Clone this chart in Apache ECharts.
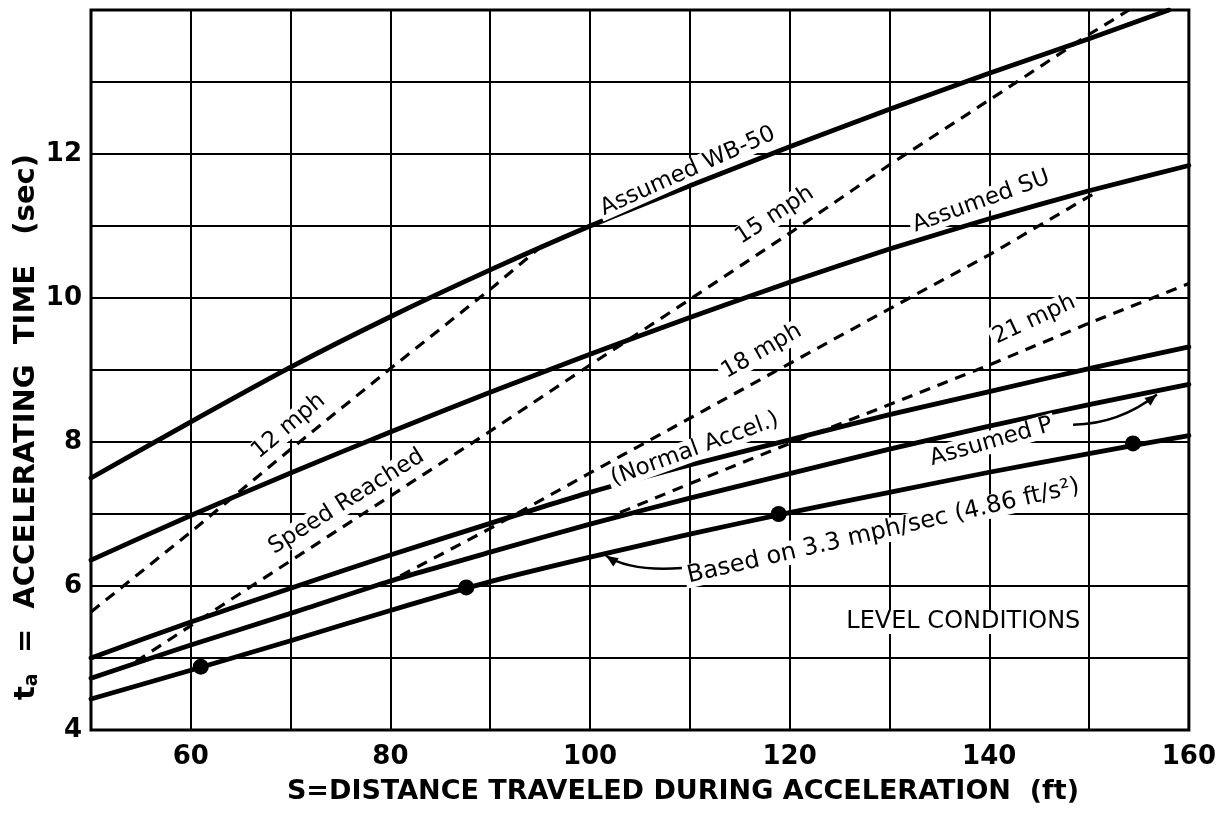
<!DOCTYPE html>
<html>
<head>
<meta charset="utf-8">
<script src="https://cdn.jsdelivr.net/npm/echarts@6/dist/echarts.min.js"></script>
<style>html,body{margin:0;padding:0;background:#fff}#c{width:1219px;height:813px}</style>
</head>
<body>
<div id="c"></div>
<script>
// ---- tick labels ----
const xTickLabels = [60, 80, 100, 120, 140, 160];
const yTickLabels = [4, 6, 8, 10, 12];

// ---- solid curves (S ft, t sec) ----
const assumedWB50 = [[50,7.5],[60,8.28],[70,9.04],[80,9.74],[90,10.39],[100,11.0],[110,11.56],[120,12.1],[130,12.62],[140,13.12],[150,13.6],[158,14.0]];
const assumedSU   = [[50,6.36],[60,6.98],[70,7.57],[80,8.14],[90,8.69],[100,9.22],[110,9.73],[120,10.22],[130,10.68],[140,11.1],[150,11.49],[160,11.84]];
const normalAccel = [[50,5.0],[60,5.5],[70,5.97],[80,6.43],[90,6.87],[100,7.3],[110,7.68],[120,8.03],[130,8.38],[140,8.7],[150,9.02],[160,9.32]];
const assumedP    = [[50,4.72],[60,5.18],[70,5.62],[80,6.07],[90,6.47],[100,6.86],[110,7.22],[120,7.56],[130,7.9],[140,8.22],[150,8.52],[160,8.8]];
const rate33      = [[50,4.43],[60,4.83],[70,5.24],[80,5.66],[90,6.06],[100,6.4],[110,6.72],[120,7.02],[130,7.3],[140,7.58],[150,7.84],[160,8.09]];
const rate33Dots  = [[61,4.88],[87.6,5.98],[118.9,7.0],[154.4,7.98]];

// ---- dashed "speed reached" lines ----
const mph12 = [[50,5.64],[60,6.75],[70,7.9],[80,9.02],[90,10.12],[95.5,10.76]];
const mph15 = [[54.5,4.95],[60,5.45],[70,6.35],[80,7.25],[90,8.15],[100,9.07],[110,9.98],[120,10.9],[130,11.85],[140,12.75],[150,13.66],[154,14.0]];
const mph18 = [[81,6.14],[90,6.8],[100,7.57],[110,8.33],[120,9.09],[130,9.85],[140,10.6],[150.5,11.45]];
const mph21 = [[103,7.02],[110,7.42],[120,7.98],[130,8.52],[140,9.07],[150,9.65],[160,10.2]];

const FONT = '"DejaVu Sans", sans-serif';
const chart = echarts.init(document.getElementById('c'), null, {renderer:'canvas'});

function solid(name, data){
  return {name, type:'line', data, showSymbol:false, symbol:'none', smooth:0.2, z:5,
    lineStyle:{color:'#000', width:4.8, cap:'round', join:'round'}};
}
function dashed(name, data){
  return {name, type:'line', data, showSymbol:false, symbol:'none', z:4,
    lineStyle:{color:'#000', width:3.2, type:[11,8]}};
}

chart.setOption({
  animation:false,
  backgroundColor:'#fff',
  grid:{left:91, right:27, top:10, bottom:83, show:true, borderColor:'#000', borderWidth:3},
  xAxis:{type:'value', min:50, max:160, interval:10,
    axisLine:{show:false}, axisTick:{show:false},
    splitLine:{show:true, lineStyle:{color:'#000', width:2}},
    axisLabel:{margin:14, fontSize:26, fontWeight:'bold', color:'#000', fontFamily:FONT,
      formatter:v => xTickLabels.includes(v) ? String(v) : ''}},
  yAxis:{type:'value', min:4, max:14, interval:1,
    axisLine:{show:false}, axisTick:{show:false},
    splitLine:{show:true, lineStyle:{color:'#000', width:2}},
    axisLabel:{margin:9, fontSize:26, fontWeight:'bold', color:'#000', fontFamily:FONT,
      formatter:v => yTickLabels.includes(v) ? String(v) : ''}},
  series:[
    solid('Assumed WB-50', assumedWB50),
    solid('Assumed SU', assumedSU),
    solid('Normal Accel.', normalAccel),
    solid('Assumed P', assumedP),
    solid('Based on 3.3 mph/sec', rate33),
    dashed('12 mph', mph12),
    dashed('15 mph', mph15),
    dashed('18 mph', mph18),
    dashed('21 mph', mph21),
    {name:'3.3 mph/sec points', type:'scatter', data:rate33Dots, symbolSize:16, z:6,
      itemStyle:{color:'#000', opacity:1}}
  ]
});

// ---- annotations placed through the chart's own scales ----
const P = (x,y) => chart.convertToPixel({gridIndex:0},[x,y]);
const labelDefs = [
  ['Assumed WB-50', 109.8, 11.76, 24, 23],
  ['15 mph', 118.5, 11.15, 33, 23],
  ['Assumed SU', 139.2, 11.34, 20, 23],
  ['12 mph', 69.8, 8.22, 40, 23],
  ['Speed Reached', 75.6, 7.17, 32, 23],
  ['18 mph', 117.2, 9.26, 30, 23],
  ['(Normal Accel.)', 110.5, 7.9, 20, 23],
  ['21 mph', 144.5, 9.7, 25, 23],
  ['Assumed P', 140.2, 8.0, 16, 23],
  ['Based on 3.3 mph/sec (4.86 ft/s²)', 129.4, 6.76, 13, 24],
  ['LEVEL CONDITIONS', 137.4, 5.5, 0, 24]
];
const g = [];
labelDefs.forEach(([text, sx, ty, rot, fs]) => {
  const p = P(sx, ty);
  g.push({type:'text', x:p[0], y:p[1], rotation:rot*Math.PI/180, z:100,
    style:{text, fontSize:fs, fontFamily:FONT, fill:'#000', align:'center', verticalAlign:'middle',
      backgroundColor:'#fff', padding:[0,3]}});
});
// arrows
function arrow(a, c, b){
  const A=P(a[0],a[1]), C=P(c[0],c[1]), B=P(b[0],b[1]);
  g.push({type:'bezierCurve', z:101, shape:{x1:A[0],y1:A[1],x2:B[0],y2:B[1],cpx1:C[0],cpy1:C[1]},
    style:{stroke:'#000', lineWidth:2.5, fill:null}});
  const ang = Math.atan2(B[1]-C[1], B[0]-C[0]);
  const L=12, W=5;
  const bx=B[0]-L*Math.cos(ang), by=B[1]-L*Math.sin(ang);
  g.push({type:'polygon', z:101, shape:{points:[[B[0],B[1]],[bx+W*Math.sin(ang),by-W*Math.cos(ang)],[bx-W*Math.sin(ang),by+W*Math.cos(ang)]]},
    style:{fill:'#000'}});
}
arrow([148.4,8.24],[153,8.25],[156.8,8.66]);
arrow([109.2,6.25],[104,6.2],[101.6,6.42]);
// axis titles
g.push({type:'text', x:683, y:792, z:100,
  style:{text:'S=DISTANCE TRAVELED DURING ACCELERATION  (ft)', fontSize:27, fontWeight:'bold', fontFamily:FONT, fill:'#000', align:'center', verticalAlign:'middle'}});
g.push({type:'text', x:26, y:427, rotation:Math.PI/2, z:100,
  style:{text:'{t|t}{s|a}{t|  =  ACCELERATING  TIME   (sec)}', fill:'#000', align:'center', verticalAlign:'middle',
    rich:{t:{fontSize:29, fontWeight:'bold', fontFamily:FONT, fill:'#000'},
          s:{fontSize:19, fontWeight:'bold', fontFamily:FONT, fill:'#000', padding:[13,0,0,0]}}}});
chart.setOption({graphic:g});
</script>
</body>
</html>
